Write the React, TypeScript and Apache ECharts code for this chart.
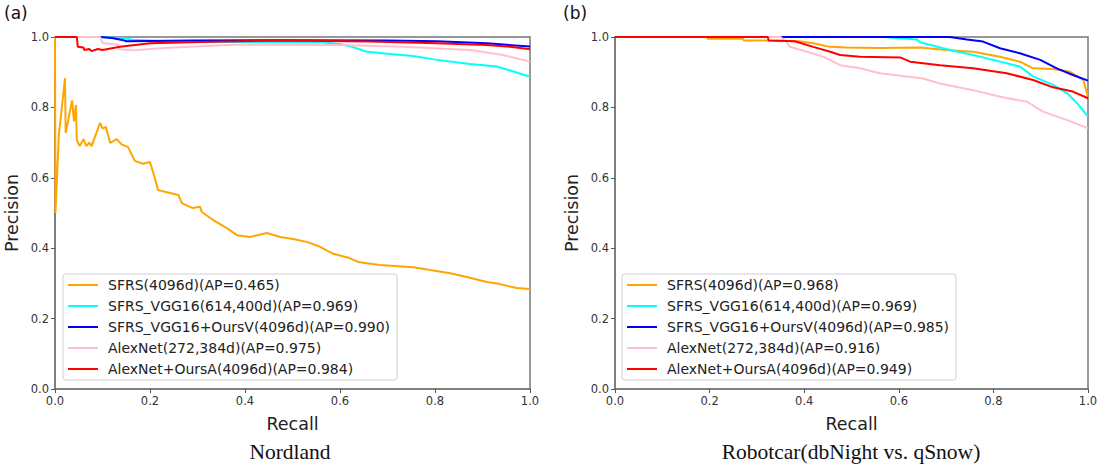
import React, { useEffect, useRef } from "react";
import * as echarts from "echarts";

const ticks = ["0.0", "0.2", "0.4", "0.6", "0.8", "1.0"];

const namesA = [
  "SFRS(4096d)(AP=0.465)",
  "SFRS_VGG16(614,400d)(AP=0.969)",
  "SFRS_VGG16+OursV(4096d)(AP=0.990)",
  "AlexNet(272,384d)(AP=0.975)",
  "AlexNet+OursA(4096d)(AP=0.984)",
];
const namesB = [
  "SFRS(4096d)(AP=0.968)",
  "SFRS_VGG16(614,400d)(AP=0.969)",
  "SFRS_VGG16+OursV(4096d)(AP=0.985)",
  "AlexNet(272,384d)(AP=0.916)",
  "AlexNet+OursA(4096d)(AP=0.949)",
];
const colors = ["#FFA500", "#00FFFF", "#0000FF", "#FFC0CB", "#FF0000"];

// Nordland
const aOrange = [
  [0, 1.0], [0.001, 0.5], [0.008, 0.72], [0.021, 0.883], [0.0225, 0.727], [0.036, 0.82],
  [0.04, 0.76], [0.044, 0.807], [0.046, 0.707], [0.052, 0.69], [0.06, 0.71], [0.066, 0.69],
  [0.072, 0.7], [0.077, 0.69], [0.095, 0.756], [0.1, 0.74], [0.107, 0.745], [0.116, 0.699],
  [0.13, 0.71], [0.14, 0.695], [0.154, 0.687], [0.16, 0.67], [0.168, 0.648], [0.185, 0.64],
  [0.2, 0.645], [0.21, 0.6], [0.217, 0.565], [0.242, 0.557], [0.26, 0.551], [0.267, 0.528],
  [0.29, 0.514], [0.305, 0.518], [0.309, 0.503], [0.333, 0.48], [0.362, 0.457], [0.383, 0.437],
  [0.41, 0.432], [0.446, 0.443], [0.474, 0.432], [0.501, 0.426], [0.53, 0.418], [0.558, 0.404],
  [0.586, 0.384], [0.62, 0.372], [0.638, 0.361], [0.684, 0.352], [0.754, 0.346], [0.79, 0.338],
  [0.832, 0.329], [0.867, 0.318], [0.909, 0.304], [0.937, 0.298], [0.972, 0.287], [1.0, 0.284],
];
const aCyan = [
  [0, 1.0], [0.1, 1.0], [0.15, 0.996], [0.163, 0.992], [0.2, 0.99], [0.25, 0.986],
  [0.56, 0.985], [0.6, 0.98], [0.625, 0.972], [0.657, 0.958], [0.705, 0.952], [0.754, 0.946],
  [0.804, 0.935], [0.874, 0.923], [0.93, 0.916], [0.958, 0.905], [1.0, 0.887],
];
const aBlue = [
  [0, 1.0], [0.095, 1.0], [0.12, 0.997], [0.144, 0.991], [0.15, 0.988], [0.288, 0.99],
  [0.5, 0.991], [0.7, 0.99], [0.804, 0.988], [0.909, 0.982], [1.0, 0.973],
];
const aPink = [
  [0, 1.0], [0.095, 1.0], [0.1, 0.983], [0.133, 0.978], [0.135, 0.965], [0.168, 0.962],
  [0.2, 0.966], [0.25, 0.97], [0.375, 0.978], [0.593, 0.977], [0.733, 0.972],
  [0.874, 0.963], [0.943, 0.949], [1.0, 0.93],
];
const aRed = [
  [0, 1.0], [0.046, 1.0], [0.048, 0.972], [0.06, 0.97], [0.062, 0.963], [0.072, 0.966],
  [0.077, 0.96], [0.09, 0.966], [0.1, 0.963], [0.137, 0.972], [0.2, 0.982], [0.305, 0.986],
  [0.474, 0.99], [0.663, 0.987], [0.804, 0.982], [0.909, 0.977], [0.958, 0.972], [1.0, 0.965],
];

// Robotcar
const bOrange = [
  [0, 1.0], [0.195, 1.0], [0.196, 0.995], [0.271, 0.995], [0.272, 0.99], [0.321, 0.99],
  [0.39, 0.988], [0.419, 0.982], [0.455, 0.972], [0.49, 0.97], [0.56, 0.969], [0.645, 0.97],
  [0.7, 0.963], [0.757, 0.958], [0.814, 0.944], [0.856, 0.93], [0.884, 0.911],
  [0.926, 0.909], [0.962, 0.901], [0.99, 0.878], [1.0, 0.83],
];
const bCyan = [
  [0, 1.0], [0.567, 1.0], [0.638, 0.993], [0.645, 0.985], [0.708, 0.963], [0.757, 0.949],
  [0.814, 0.93], [0.856, 0.916], [0.884, 0.888], [0.926, 0.864], [0.956, 0.84],
  [0.977, 0.812], [1.0, 0.774],
];
const bBlue = [
  [0, 1.0], [0.708, 1.0], [0.744, 0.993], [0.778, 0.987], [0.814, 0.968], [0.856, 0.954],
  [0.899, 0.935], [0.934, 0.911], [0.968, 0.892], [1.0, 0.876],
];
const bPink = [
  [0, 1.0], [0.35, 1.0], [0.363, 0.985], [0.37, 0.972], [0.406, 0.958], [0.44, 0.944],
  [0.461, 0.93], [0.476, 0.92], [0.518, 0.911], [0.56, 0.897], [0.651, 0.882],
  [0.687, 0.868], [0.757, 0.849], [0.814, 0.83], [0.871, 0.816], [0.905, 0.788],
  [0.956, 0.764], [1.0, 0.741],
];
const bRed = [
  [0, 1.0], [0.323, 1.0], [0.325, 0.99], [0.38, 0.988], [0.419, 0.972], [0.455, 0.958],
  [0.476, 0.949], [0.518, 0.944], [0.603, 0.942], [0.624, 0.93], [0.687, 0.92],
  [0.757, 0.911], [0.828, 0.897], [0.884, 0.878], [0.926, 0.857], [0.968, 0.845],
  [1.0, 0.826],
];

const seriesA = [aOrange, aCyan, aBlue, aPink, aRed];
const seriesB = [bOrange, bCyan, bBlue, bPink, bRed];

const FONT = "DejaVu Sans";

function App() {
  const ref = useRef<HTMLDivElement>(null);
  useEffect(() => {
    if (!ref.current) return;
    const chart = echarts.init(ref.current, null, { renderer: "svg" });
    const fmt = (v: number) => ticks[Math.round(v / 0.2)] ?? v.toFixed(1);
    const axisCommon = {
      type: "value",
      min: 0,
      max: 1,
      interval: 0.2,
      nameLocation: "middle",
      nameTextStyle: { fontFamily: FONT, fontSize: 17.5, color: "#222" },
      axisLine: { show: true, lineStyle: { color: "#777", width: 1.5 } },
      axisTick: { show: true, length: 4, lineStyle: { color: "#555" } },
      axisLabel: { formatter: fmt, fontFamily: FONT, fontSize: 11.5, color: "#333", margin: 6 },
      splitLine: { show: false },
    };
    const mkX = (gi: number) => ({ ...axisCommon, gridIndex: gi, name: "Recall", nameGap: 26 });
    const mkY = (gi: number) => ({ ...axisCommon, gridIndex: gi, name: "Precision", nameGap: 34 });
    const mkSeries = (data: number[][][], names: string[], gi: number) =>
      data.map((d, i) => ({
        type: "line",
        name: names[i],
        xAxisIndex: gi,
        yAxisIndex: gi,
        data: d,
        symbol: "none",
        showSymbol: false,
        lineStyle: { color: colors[i], width: 2 },
        itemStyle: { color: colors[i] },
        z: 2 + i,
      }));
    const mkLegend = (names: string[], left: number) => ({
      data: names.map((n) => ({ name: n, icon: "path://M0 0H30V2H0Z" })),
      orient: "vertical",
      left,
      top: 274,
      itemWidth: 30,
      itemHeight: 14,
      itemGap: 7,
      symbolKeepAspect: true,
      padding: [4, 7, 4, 5],
      borderColor: "#d0d0d0",
      borderWidth: 1,
      borderRadius: 3,
      backgroundColor: "#fff",
      selectedMode: false,
      textStyle: { fontFamily: FONT, fontSize: 14, lineHeight: 14, color: "#222", padding: [0, 0, 0, 5] },
    });
    chart.setOption({
      animation: false,
      backgroundColor: "#fff",
      grid: [
        { left: 55, top: 37, width: 475, height: 352, show: true, borderColor: "#777", borderWidth: 1.5 },
        { left: 615, top: 37, width: 473, height: 352, show: true, borderColor: "#777", borderWidth: 1.5 },
      ],
      xAxis: [mkX(0), mkX(1)],
      yAxis: [mkY(0), mkY(1)],
      legend: [mkLegend(namesA, 63), mkLegend(namesB, 622)],
      series: [...mkSeries(seriesA, namesA, 0), ...mkSeries(seriesB, namesB, 1)],
      graphic: [
        { type: "text", left: 4, top: 4, style: { text: "(a)", fontFamily: FONT, fontSize: 17, fill: "#111" } },
        { type: "text", left: 563, top: 4, style: { text: "(b)", fontFamily: FONT, fontSize: 17, fill: "#111" } },
        {
          type: "text",
          x: 290,
          y: 452,
          style: { text: "Nordland", fontFamily: "Liberation Serif", fontSize: 21.5, fill: "#111", align: "center", verticalAlign: "middle" },
        },
        {
          type: "text",
          x: 851,
          y: 452,
          style: { text: "Robotcar(dbNight vs. qSnow)", fontFamily: "Liberation Serif", fontSize: 21.5, fill: "#111", align: "center", verticalAlign: "middle" },
        },
      ],
    });
    return () => chart.dispose();
  }, []);
  return <div ref={ref} style={{ width: 1108, height: 465, position: "absolute", left: 0, top: 0 }} />;
}

export default App;
